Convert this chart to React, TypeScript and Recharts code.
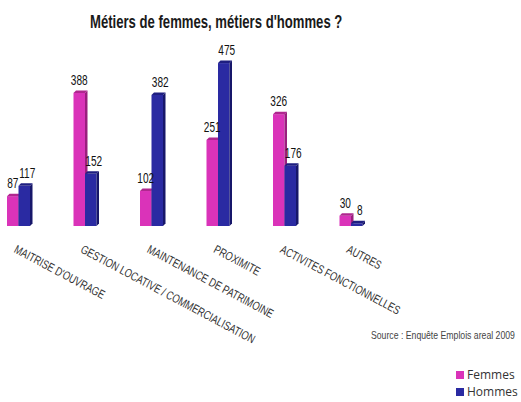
import React from "react";
import { BarChart, Bar, XAxis, YAxis, LabelList } from "recharts";

const categories = [
  "MAITRISE D'OUVRAGE",
  "GESTION LOCATIVE / COMMERCIALISATION",
  "MAINTENANCE DE PATRIMOINE",
  "PROXIMITE",
  "ACTIVITES FONCTIONNELLES",
  "AUTRES",
];
const femmes = [87, 388, 102, 251, 326, 30];
const hommes = [117, 152, 382, 475, 176, 8];
const seriesNames = ["Femmes", "Hommes"];

const data = categories.map((c, i) => ({ cat: c, Femmes: femmes[i], Hommes: hommes[i] }));

const FONT = "'Liberation Sans', Arial, sans-serif";
const PINK = "#DA33B9";
const BLUE = "#2A2AA2";
const seriesColors = [PINK, BLUE];

const make3D = (front: string, top: string, side: string) => (props: any) => {
  const { x, y, width, height } = props;
  if (height == null || height <= 0) return null;
  const d = 2.5;
  return (
    <g>
      <rect x={x} y={y} width={width} height={height} fill={front} />
      <polygon points={`${x},${y} ${x + d},${y - d} ${x + width + d},${y - d} ${x + width},${y}`} fill={top} />
      <polygon points={`${x + width},${y} ${x + width + d},${y - d} ${x + width + d},${y + height - d} ${x + width},${y + height}`} fill={side} />
    </g>
  );
};

const ValueLabel = (dx: number) => (props: any) => {
  const { x, y, width, value } = props;
  const cx = x + width / 2 + dx;
  const cy = y - 8;
  return (
    <text
      transform={`translate(${cx}, ${cy}) scale(0.72, 1)`}
      textAnchor="middle"
      fontFamily={FONT}
      fontSize={14}
      fill="#111"
    >
      {value}
    </text>
  );
};

const Tick = (props: any) => {
  const { x, payload } = props;
  const tx = x - 5;
  const ty = 252;
  return (
    <text
      transform={`translate(${tx}, ${ty}) rotate(28) scale(0.77, 1)`}
      textAnchor="start"
      fontFamily={FONT}
      fontSize={12}
      fill="#333"
    >
      {payload.value}
    </text>
  );
};

export default function App() {
  return (
    <div style={{ position: "absolute", left: 0, top: 0, width: 521, height: 402, background: "#fff" }}>
      <BarChart
        width={521}
        height={402}
        data={data}
        margin={{ top: 54.5, right: 137, bottom: 146, left: -15 }}
        barGap={0}
        barCategoryGap={0}
        barSize={11.5}
      >
        <XAxis dataKey="cat" axisLine={false} tickLine={false} height={30} interval={0} tick={<Tick />} />
        <YAxis hide domain={[0, 500]} width={0} />
        <Bar dataKey="Femmes" fill={PINK} isAnimationActive={false} shape={make3D(PINK, "#B0278F", "#9A1F7E")}>
          <LabelList dataKey="Femmes" content={ValueLabel(0)} />
        </Bar>
        <Bar dataKey="Hommes" fill={BLUE} isAnimationActive={false} shape={make3D(BLUE, "#1E1E80", "#17176A")}>
          <LabelList dataKey="Hommes" content={ValueLabel(3)} />
        </Bar>
      </BarChart>
      <svg width={521} height={402} style={{ position: "absolute", left: 0, top: 0, pointerEvents: "none" }}>
        <text transform="translate(90, 28) scale(0.75, 1)" fontFamily={FONT} fontWeight="bold" fontSize={17.5} fill="#1a1a1a">
          Métiers de femmes, métiers d'hommes ?
        </text>
        <text transform="translate(371, 339) scale(0.79, 1)" fontFamily={FONT} fontSize={11} fill="#444">
          Source : Enquête Emplois areal 2009
        </text>
      </svg>
      <div style={{ position: "absolute", left: 456, top: 366 }}>
        {seriesNames.map((n, i) => (
          <div key={n} style={{ display: "flex", alignItems: "center", height: 17, fontFamily: "'Open Sans', sans-serif", fontSize: 12, color: "#333", whiteSpace: "nowrap" }}>
            <span style={{ display: "inline-block", width: 8, height: 8, background: seriesColors[i], marginRight: 3 }} />
            {n}
          </div>
        ))}
      </div>
    </div>
  );
}
